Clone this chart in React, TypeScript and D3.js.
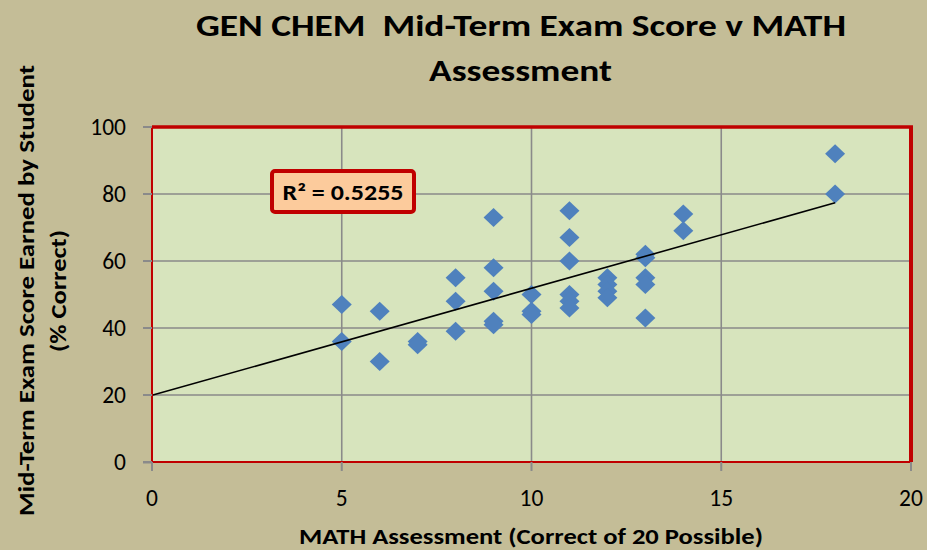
import React from "react";
import * as d3 from "d3";

const mathScores: number[] = [
  5, 5, 6, 6, 7, 7, 8, 8, 8, 9, 9, 9, 9, 9, 10, 10, 10,
  11, 11, 11, 11, 11, 11, 12, 12, 12, 12, 13, 13, 13, 13, 13, 14, 14, 18, 18,
];
const examScores: number[] = [
  47, 36, 45, 30, 36, 35, 55, 48, 39, 73, 58, 51, 42, 41, 50, 45, 44,
  75, 67, 60, 50, 48, 46, 55, 53, 51, 49, 62, 61, 55, 53, 43, 74, 69, 92, 80,
];
const trendX: number[] = [0, 18];
const trendY: number[] = [19.9, 77.4];
const xTicks: number[] = [0, 5, 10, 15, 20];
const yTicks: number[] = [0, 20, 40, 60, 80, 100];
const rSquaredLabel = "R\u00B2 = 0.5255";
const titleLines: string[] = ["GEN CHEM \u00A0Mid-Term Exam Score v MATH", "Assessment"];
const xTitle = "MATH Assessment (Correct of 20 Possible)";
const yTitleLines: string[] = ["Mid-Term Exam Score Earned by Student", "(% Correct)"];

const W = 927;
const H = 550;
const FONT = "Carlito, Lato, 'Open Sans', sans-serif";

export default function App() {
  const x = d3.scaleLinear().domain([0, 20]).range([152, 911]);
  const y = d3.scaleLinear().domain([0, 100]).range([462, 127]);
  const points = mathScores.map((m, i) => ({ m, e: examScores[i] }));
  const line = d3
    .line<number>()
    .x((_, i) => x(trendX[i]))
    .y((d) => y(d));
  const diamond = (cx: number, cy: number) =>
    `M${cx},${cy - 9.5}L${cx + 10},${cy}L${cx},${cy + 9.5}L${cx - 10},${cy}Z`;
  const [x0, x1] = x.range();
  const [y0, y1] = y.range();

  return (
    <svg
      width={W}
      height={H}
      style={{ position: "absolute", left: 0, top: 0, display: "block" }}
    >
      <rect x={0} y={0} width={W} height={H} fill="#C4BD97" />
      <rect x={x0} y={y1} width={x1 - x0} height={y0 - y1} fill="#D7E4BD" />
      {xTicks.slice(1, -1).map((t) => (
        <line key={"gx" + t} x1={x(t)} x2={x(t)} y1={y1} y2={y0} stroke="#8A8A8A" strokeWidth={1.6} />
      ))}
      {yTicks.slice(1, -1).map((t) => (
        <line key={"gy" + t} x1={x0} x2={x1} y1={y(t)} y2={y(t)} stroke="#8A8A8A" strokeWidth={1.6} />
      ))}
      {points.map((p, i) => (
        <path key={i} d={diamond(x(p.m), y(p.e))} fill="#4F81BD" />
      ))}
      <path d={line(trendY) || ""} fill="none" stroke="#000" strokeWidth={1.6} />
      {/* plot border */}
      <rect x={x0} y={y1} width={x1 - x0} height={y0 - y1} fill="none" stroke="#C00000" strokeWidth={2} />
      <line x1={x0} x2={x1 + 2} y1={y1} y2={y1} stroke="#C00000" strokeWidth={3.5} />
      <line x1={x1} x2={x1} y1={y1} y2={y0} stroke="#C00000" strokeWidth={4} />
      {/* ticks */}
      {yTicks.map((t) => (
        <line key={"ty" + t} x1={x0 - 9} x2={x0} y1={y(t)} y2={y(t)} stroke="#8A8A8A" strokeWidth={2} />
      ))}
      {xTicks.map((t) => (
        <line key={"tx" + t} x1={x(t)} x2={x(t)} y1={y0} y2={y0 + 9} stroke="#8A8A8A" strokeWidth={2} />
      ))}
      <line x1={x0 - 9} x2={x0} y1={y0 + 0.5} y2={y0 + 0.5} stroke="#8A8A8A" strokeWidth={2} />
      {yTicks.map((t) => (
        <text key={"ly" + t} x={126} y={y(t)} dy="0.36em" textAnchor="end" fontFamily={FONT} fontSize={23.5} fill="#000">
          {t}
        </text>
      ))}
      {xTicks.map((t) => (
        <text key={"lx" + t} x={x(t)} y={506} textAnchor="middle" fontFamily={FONT} fontSize={23.5} fill="#000">
          {t}
        </text>
      ))}
      {/* titles */}
      <text x={521} y={36} textAnchor="middle" fontFamily={FONT} fontWeight={900} fontSize={31} textLength={650} lengthAdjust="spacingAndGlyphs">
        {titleLines[0]}
      </text>
      <text x={520.5} y={81} textAnchor="middle" fontFamily={FONT} fontWeight={900} fontSize={31} textLength={183} lengthAdjust="spacingAndGlyphs">
        {titleLines[1]}
      </text>
      <text x={531} y={544} textAnchor="middle" fontFamily={FONT} fontWeight="bold" fontSize={21.5} textLength={464} lengthAdjust="spacingAndGlyphs">
        {xTitle}
      </text>
      <text transform="translate(34,290.5) rotate(-90)" textAnchor="middle" fontFamily={FONT} fontWeight="bold" fontSize={23} textLength={451} lengthAdjust="spacingAndGlyphs">
        {yTitleLines[0]}
      </text>
      <text transform="translate(66,291) rotate(-90)" textAnchor="middle" fontFamily={FONT} fontWeight="bold" fontSize={23} textLength={122} lengthAdjust="spacingAndGlyphs">
        {yTitleLines[1]}
      </text>
      {/* R squared box */}
      <rect x={272} y={171} width={142} height={41} rx={3} fill="#FCCB9C" stroke="#C00000" strokeWidth={4} />
      <text x={343} y={199.5} textAnchor="middle" fontFamily={FONT} fontWeight="bold" fontSize={22} textLength={121} lengthAdjust="spacingAndGlyphs">
        {rSquaredLabel}
      </text>
    </svg>
  );
}
